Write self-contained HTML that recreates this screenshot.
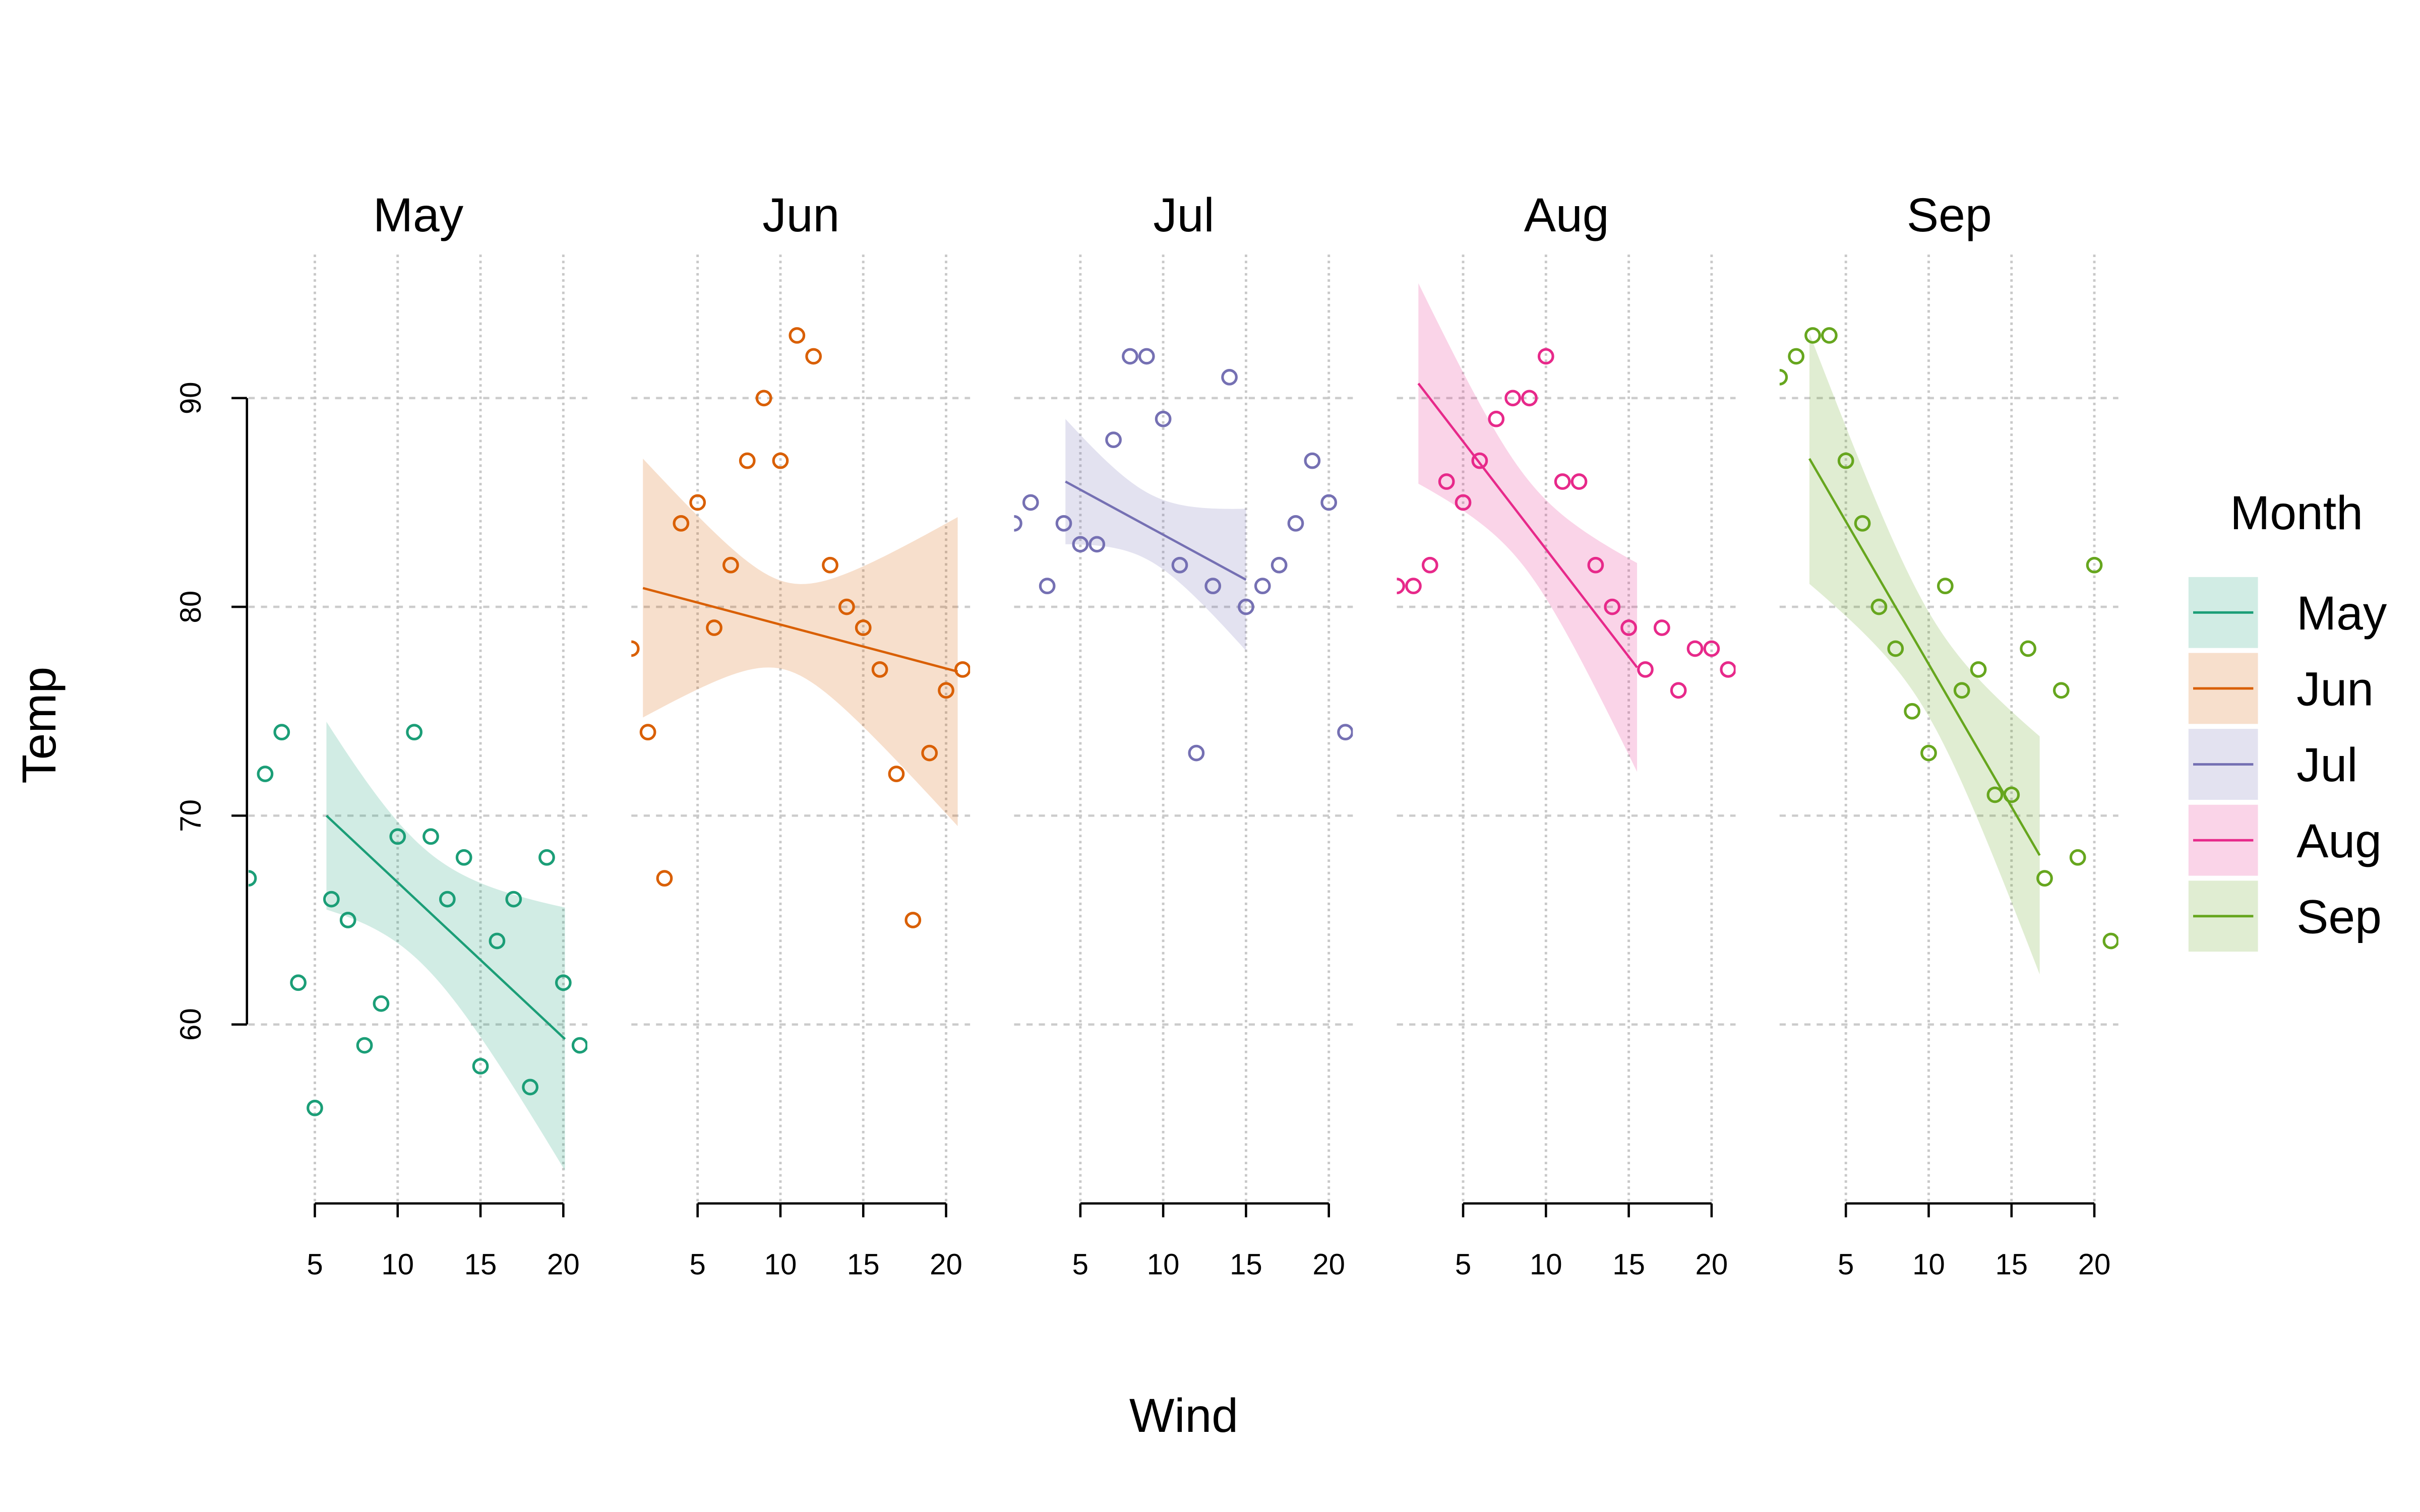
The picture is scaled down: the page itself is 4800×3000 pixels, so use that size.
<!DOCTYPE html>
<html><head><meta charset="utf-8"><style>html,body{margin:0;padding:0;background:#fff}svg{display:block}</style></head>
<body>
<svg id="chart" width="4800" height="3000" viewBox="0 0 1568 980" xmlns="http://www.w3.org/2000/svg" font-family="Liberation Sans, sans-serif"></svg>
<script>
const months = ["May","Jun","Jul","Aug","Sep"];
const colors = ["#1b9e77","#d95f02","#7570b3","#e7298a","#66a61e"];
const windVals = [1,2,3,4,5,6,7,8,9,10,11,12,13,14,15,16,17,18,19,20,21];
const tempMay = [67,72,74,62,56,66,65,59,61,69,74,69,66,68,58,64,66,57,68,62,59];
const tempJun = [78,74,67,84,85,79,82,87,90,87,93,92,82,80,79,77,72,65,73,76,77];
const tempJul = [84,85,81,84,83,83,88,92,92,89,82,73,81,91,80,81,82,84,87,85,74];
const tempAug = [81,81,82,86,85,87,89,90,90,92,86,86,82,80,79,77,79,76,78,78,77];
const tempSep = [91,92,93,93,87,84,80,78,75,73,81,76,77,71,71,78,67,76,68,82,64];
const fitXStart = [5.7,1.7,4.1,2.3,2.8];
const fitXEnd = [20.1,20.7,15.0,15.5,16.7];
const fitYStart = [70,80.9,86,90.7,87.1];
const fitYEnd = [59.3,76.9,81.3,77.1,68.1];
const ciStart = [4.5,6.2,3,4.8,6];
const ciEnd = [6.3,7.4,3.4,5,5.7];
const ciMin = [2.8,2.1,1.6,2.2,2.5];
const xTicks = [5,10,15,20];
const yTicks = [60,70,80,90];

const allTemps = [tempMay,tempJun,tempJul,tempAug,tempSep];
const svg = document.getElementById('chart');
const NS = "http://www.w3.org/2000/svg";
function mk(tag, attrs, parent){const e=document.createElementNS(NS,tag);for(const k in attrs)e.setAttribute(k,attrs[k]);(parent||svg).appendChild(e);return e;}
const panelStep = 248;
function xs(p, v){ return 204 + (v-5)*10.733 + p*panelStep; }
function ys(v){ return 664 - (v-60)*13.533; }
const panelTop=165, panelBottom=780;

const defs = mk('defs',{});
for(let p=0;p<5;p++){
  const cp = mk('clipPath',{id:'clip'+p},defs);
  mk('rect',{x:xs(p,1),y:panelTop,width:xs(p,21.45)-xs(p,1),height:panelBottom-panelTop},cp);
}

for(let p=0;p<5;p++){
  const g = mk('g',{});
  
  
  const x0=xs(p,1), x1=xs(p,21.45);
  for(const t of yTicks){
    const l=mk('line',{x1:x0,x2:x1,y1:ys(t),y2:ys(t),stroke:'#cccccc','stroke-width':1.5,'stroke-dasharray':'4 4'},g);
    
    
  }
  for(const t of xTicks){
    const l=mk('line',{x1:xs(p,t),x2:xs(p,t),y1:panelTop,y2:panelBottom,stroke:'#c8c8c8','stroke-width':1.6,'stroke-dasharray':'1.6 2.4'},g);
    
    
  }
  const cg = mk('g',{'clip-path':'url(#clip'+p+')'},g);
  const a=fitXStart[p], b=fitXEnd[p];
  const hs=ciStart[p], he=ciEnd[p], hm=ciMin[p];
  const rs=Math.sqrt(Math.max(hs*hs-hm*hm,0.0001)), re=Math.sqrt(Math.max(he*he-hm*hm,0.0001));
  const xm = a + (b-a)*rs/(rs+re);
  const B = (rs*rs)/((xm-a)*(xm-a));
  const line = x => fitYStart[p] + (fitYEnd[p]-fitYStart[p])*(x-a)/(b-a);
  const hw = x => Math.sqrt(hm*hm + B*(x-xm)*(x-xm));
  const up=[], lo=[];
  for(let i=0;i<=60;i++){const x=a+(b-a)*i/60;up.push(xs(p,x).toFixed(2)+','+ys(line(x)+hw(x)).toFixed(2));lo.push(xs(p,x).toFixed(2)+','+ys(line(x)-hw(x)).toFixed(2));}
  const rib=mk('polygon',{points:up.concat(lo.reverse()).join(' '),fill:colors[p],'fill-opacity':0.2},cg);
  
  
  const fl=mk('line',{x1:xs(p,a),y1:ys(fitYStart[p]),x2:xs(p,b),y2:ys(fitYEnd[p]),stroke:colors[p],'stroke-width':1.5},cg);
  
  
  const temps=allTemps[p];
  for(let i=0;i<windVals.length;i++){
    const c=mk('circle',{cx:xs(p,windVals[i]),cy:ys(temps[i]),r:4.5,fill:'none',stroke:colors[p],'stroke-width':1.7},cg);
    
    
  }
  const ax=mk('line',{x1:xs(p,5),x2:xs(p,20),y1:panelBottom,y2:panelBottom,stroke:'#000','stroke-width':1.5},g);
  
  
  for(const t of xTicks){
    mk('line',{x1:xs(p,t),x2:xs(p,t),y1:panelBottom,y2:panelBottom+9,stroke:'#000','stroke-width':1.5},g);
    const tl=mk('text',{x:xs(p,t),y:826,'font-size':19,'text-anchor':'middle',fill:'#000'},g);
    tl.textContent=t;
    
    
  }
  const title=mk('text',{x:xs(p,5)+67,y:150,'font-size':31,'text-anchor':'middle',fill:'#000'},g);
  title.textContent=months[p];
  
  
}
const yax=mk('line',{x1:160,x2:160,y1:ys(90),y2:ys(60),stroke:'#000','stroke-width':1.5});


for(const t of yTicks){
  mk('line',{x1:150,x2:160,y1:ys(t),y2:ys(t),stroke:'#000','stroke-width':1.5});
  const tl=mk('text',{x:0,y:0,'font-size':19,'text-anchor':'middle',fill:'#000',transform:'translate(130,'+ys(t)+') rotate(-90)'});
  tl.textContent=t;
  
  
}
const xt=mk('text',{x:767,y:928,'font-size':31,'text-anchor':'middle',fill:'#000'});
xt.textContent='Wind';


const yt=mk('text',{x:0,y:0,'font-size':31,'text-anchor':'middle',fill:'#000',transform:'translate(36,470) rotate(-90)'});
yt.textContent='Temp';


const lg=mk('g',{});


const lt=mk('text',{x:1488,y:343,'font-size':31,'text-anchor':'middle',fill:'#000'},lg);
lt.textContent='Month';


for(let i=0;i<5;i++){
  const y=374+i*49.2;
  const e=mk('g',{},lg);
  
  
  mk('rect',{x:1418,y:y,width:45,height:46,fill:colors[i],'fill-opacity':0.2},e);
  mk('line',{x1:1421,x2:1460,y1:y+23,y2:y+23,stroke:colors[i],'stroke-width':1.6},e);
  const t=mk('text',{x:1488,y:y+34,'font-size':31,fill:'#000'},e);
  t.textContent=months[i];
}
</script>
</body></html>
